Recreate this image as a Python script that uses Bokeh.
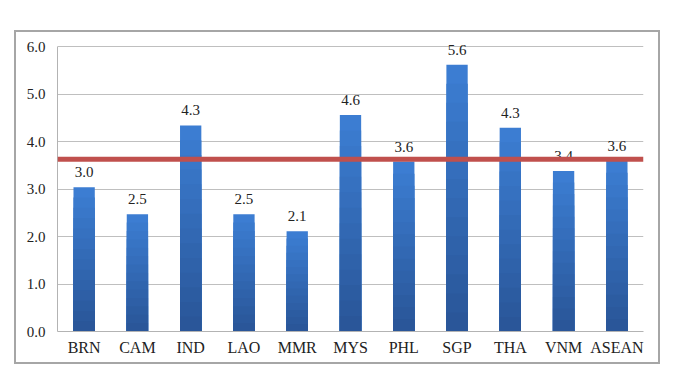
from bokeh.plotting import figure
from bokeh.models import ColumnDataSource, Span, FixedTicker, CustomJSTickFormatter, Range1d, LabelSet
from bokeh.embed import file_html
from bokeh.resources import INLINE

categories = ["BRN", "CAM", "IND", "LAO", "MMR", "MYS", "PHL", "SGP", "THA", "VNM", "ASEAN"]
values = [3.04, 2.47, 4.34, 2.47, 2.11, 4.56, 3.58, 5.62, 4.29, 3.38, 3.60]
labels = ["3.0", "2.5", "4.3", "2.5", "2.1", "4.6", "3.6", "5.6", "4.3", "3.4", "3.6"]
asean_line = 3.63
y_ticks = [0, 1, 2, 3, 4, 5, 6]

p = figure(x_range=categories, y_range=Range1d(0, 6.15), width=646, height=334,
           output_backend="svg", toolbar_location=None,
           min_border_left=41, min_border_right=19, min_border_top=7, min_border_bottom=35)
p.margin = (30, 0, 0, 14)
p.styles = {"border": "2px solid #a6a6a6"}
p.background_fill_color = "white"
p.border_fill_color = "white"

src = ColumnDataSource(dict(cat=categories, val=values, lab=labels))

# vertical gradient: lighter top -> darker bottom, layered bars
n = 14
top_c = (0x3C, 0x7D, 0xD2)
bot_c = (0x2A, 0x56, 0x99)
for i in range(n):
    f = 1 - i / n
    t = i / (n - 1)
    c = tuple(int(top_c[k] + (bot_c[k] - top_c[k]) * t) for k in range(3))
    col = "#%02x%02x%02x" % c
    fs = ColumnDataSource(dict(cat=categories, top=[v * f for v in values]))
    p.vbar(x="cat", top="top", bottom=0, width=0.40, source=fs,
           fill_color=col, line_color=None)

p.add_layout(LabelSet(x="cat", y="val", text="lab", source=src, text_align="center",
                      text_baseline="bottom", y_offset=10, text_font="Liberation Serif",
                      text_font_size="15px", text_color="#222222"))

p.add_layout(Span(location=asean_line, dimension="width",
                  line_color="#C0504D", line_width=5))

p.yaxis.ticker = FixedTicker(ticks=y_ticks)
p.yaxis.formatter = CustomJSTickFormatter(code="return tick.toFixed(1);")
p.yaxis.bounds = (0, 6)
for ax in (p.xaxis[0], p.yaxis[0]):
    ax.major_tick_line_color = None
    ax.minor_tick_line_color = None
    ax.major_tick_in = 0
    ax.major_tick_out = 0
    ax.minor_tick_in = 0
    ax.minor_tick_out = 0
    ax.axis_line_color = "#b3b3b3"
    ax.axis_line_width = 1
    ax.major_label_text_font = "Liberation Serif"
    ax.major_label_text_color = "#222222"
p.yaxis.major_label_text_font_size = "15px"
p.yaxis.major_label_standoff = 12
p.xaxis.major_label_text_font_size = "16px"
p.xaxis.major_label_standoff = 7
p.xgrid.grid_line_color = None
p.ygrid.grid_line_color = "#bfbfbf"
p.ygrid.grid_line_width = 1
p.outline_line_color = None
p.x_range.range_padding = 0.0

open("out.html", "w").write(file_html(p, INLINE))
